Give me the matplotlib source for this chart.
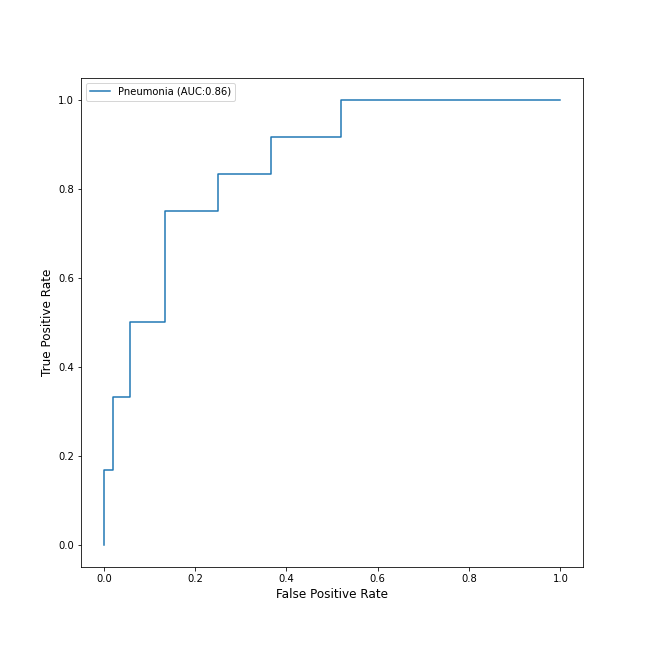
import numpy as np
import matplotlib
matplotlib.use("Agg")
import matplotlib.pyplot as plt

# ROC points
fpr = [0.0, 0.0, 0.02, 0.02, 0.057, 0.057, 0.134, 0.134, 0.25, 0.25, 0.366, 0.366, 0.52, 0.52, 1.0]
tpr = [0.0, 0.167, 0.167, 0.333, 0.333, 0.5, 0.5, 0.75, 0.75, 0.833, 0.833, 0.917, 0.917, 1.0, 1.0]
label = "Pneumonia (AUC:0.86)"

fig = plt.figure(figsize=(9, 9), dpi=72)
fig.subplots_adjust(left=0.125, right=0.9, top=0.88, bottom=0.125)
ax = fig.add_subplot(111)
ax.plot(fpr, tpr, color="#1f77b4", label=label)
ax.set_xlabel("False Positive Rate", fontsize=12)
ax.set_ylabel("True Positive Rate", fontsize=12)
ax.legend(loc="upper left")

fig.savefig("out.png", dpi=72)
